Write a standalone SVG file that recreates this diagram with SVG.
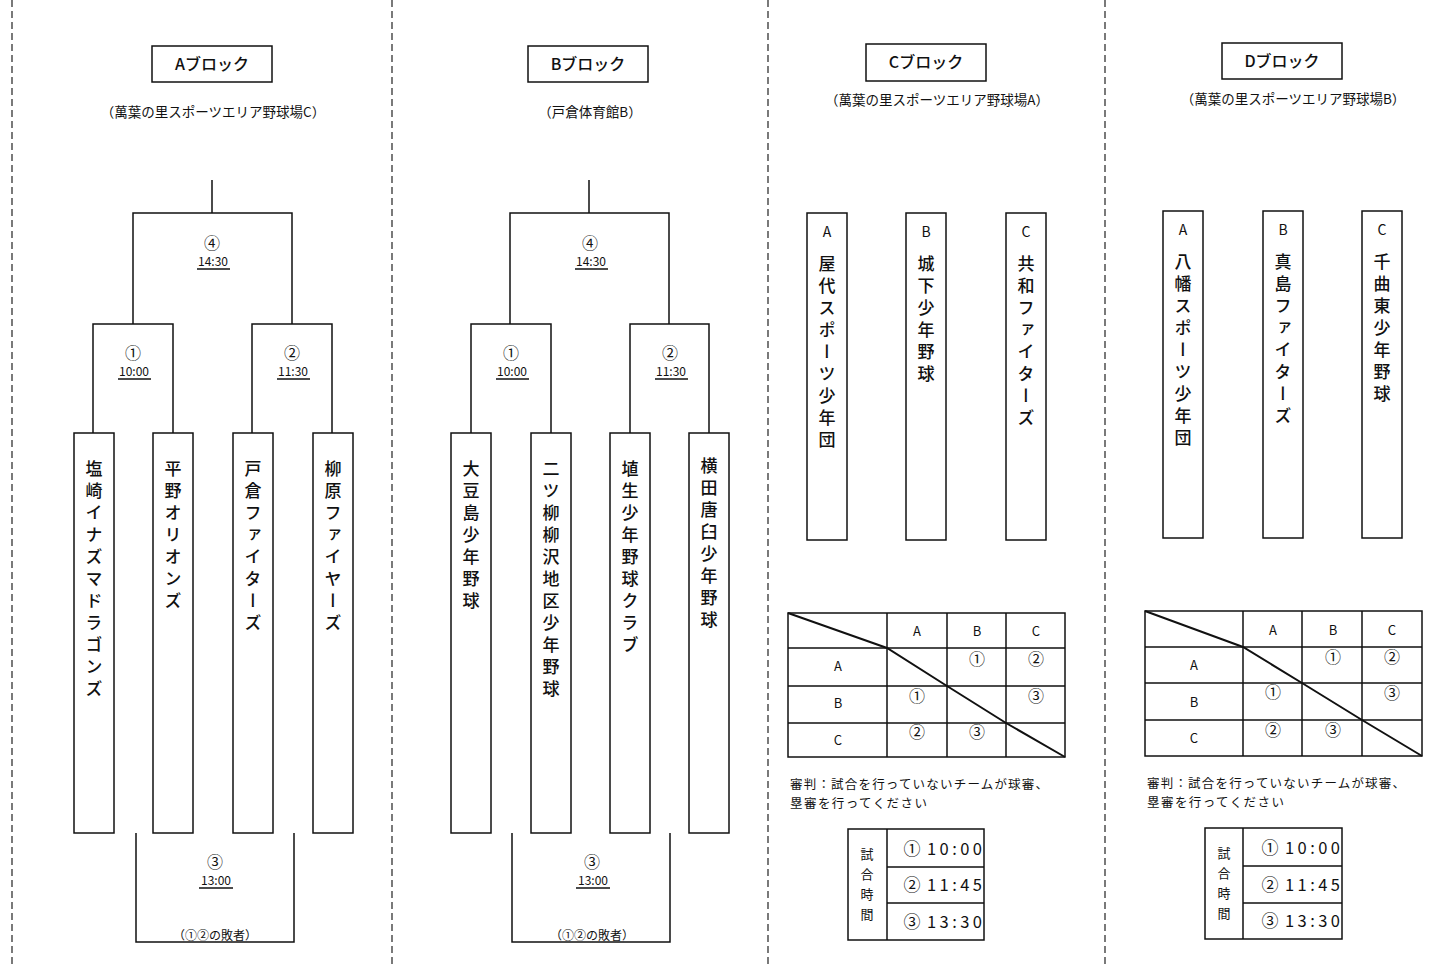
<svg xmlns="http://www.w3.org/2000/svg" width="1441" height="966" viewBox="0 0 1441 966">
<style>
.sep{stroke:#222;stroke-width:1.2;stroke-dasharray:7 4;fill:none}
.ln{stroke:#111;stroke-width:1.5;fill:none}
.box{fill:#fff;stroke:#111;stroke-width:1.5}
.dg{stroke:#111;stroke-width:2;fill:none}
text{font-family:"Noto Sans CJK JP","Noto Sans CJK SC",sans-serif;fill:#111}
.ttl{font-size:16px;text-anchor:middle;font-weight:500}
.sub{font-size:13.5px;text-anchor:middle}
.num{font-size:16px;text-anchor:middle}
.tm{font-size:12px;text-anchor:middle}
.vt{font-size:17px;writing-mode:vertical-rl;letter-spacing:5px;font-weight:500}
.lt{font-size:14px;text-anchor:middle}
.cell{font-size:13px;text-anchor:middle}
.cn{font-size:16px;text-anchor:middle}
.note{font-size:12.5px}
.sm{font-size:12px;text-anchor:middle}
.tt{font-size:16.5px}
.big{font-size:17px;text-anchor:middle}
.vs{font-size:13px;writing-mode:vertical-rl;letter-spacing:7px}
</style>
<rect width="1441" height="966" fill="#fff"/>
<g id="separators">
<line class="sep" x1="12" y1="0" x2="12" y2="966"/>
<line class="sep" x1="392" y1="0" x2="392" y2="966"/>
<line class="sep" x1="768" y1="0" x2="768" y2="966"/>
<line class="sep" x1="1105" y1="0" x2="1105" y2="966"/>
</g>

<!-- A block -->
<g id="a-title"><rect class="box" x="152" y="46" width="120" height="36"/><text class="ttl" x="212" y="70">Aブロック</text></g>
<g id="a-venue"><text class="sub" x="213" y="117">（萬葉の里スポーツエリア野球場C）</text></g>
<g id="connectors-a">
<path class="ln" d="M212 180V213M133 324V213H292V324M93 433V324H173V433M252 433V324H332V433M136 833V942H294V833"/>
</g>
<g id="a-m4"><text class="num" x="212" y="249">④</text><text class="tm" x="213" y="266">14:30</text><line class="ln" stroke-width="1" x1="197" y1="269" x2="230" y2="269"/></g>
<g id="a-m1"><text class="num" x="133" y="359">①</text><text class="tm" x="134" y="376">10:00</text><line class="ln" stroke-width="1" x1="118" y1="379" x2="151" y2="379"/></g>
<g id="a-m2"><text class="num" x="292" y="359">②</text><text class="tm" x="293" y="376">11:30</text><line class="ln" stroke-width="1" x1="277" y1="379" x2="310" y2="379"/></g>
<g id="a-m3"><text class="num" x="215" y="868">③</text><text class="tm" x="216" y="885">13:00</text><line class="ln" stroke-width="1" x1="199" y1="888" x2="233" y2="888"/><text class="sm" x="215" y="940">（①②の敗者）</text></g>
<g id="a-t1"><rect class="box" x="74" y="433" width="40" height="400"/><text class="vt" x="94" y="460">塩崎イナズマドラゴンズ</text></g>
<g id="a-t2"><rect class="box" x="153" y="433" width="40" height="400"/><text class="vt" x="173" y="460">平野オリオンズ</text></g>
<g id="a-t3"><rect class="box" x="233" y="433" width="40" height="400"/><text class="vt" x="253" y="460">戸倉ファイターズ</text></g>
<g id="a-t4"><rect class="box" x="313" y="433" width="40" height="400"/><text class="vt" x="333" y="460">柳原ファイヤーズ</text></g>

<!-- B block -->
<g id="b-title"><rect class="box" x="528" y="46" width="120" height="36"/><text class="ttl" x="588" y="70">Bブロック</text></g>
<g id="b-venue"><text class="sub" x="590" y="117">（戸倉体育館B）</text></g>
<g id="connectors-b">
<path class="ln" d="M589 180V213M510 324V213H669V324M471 433V324H551V433M630 433V324H709V433M512 833V942H670V833"/>
</g>
<g id="b-m4"><text class="num" x="590" y="249">④</text><text class="tm" x="591" y="266">14:30</text><line class="ln" stroke-width="1" x1="575" y1="269" x2="608" y2="269"/></g>
<g id="b-m1"><text class="num" x="511" y="359">①</text><text class="tm" x="512" y="376">10:00</text><line class="ln" stroke-width="1" x1="496" y1="379" x2="529" y2="379"/></g>
<g id="b-m2"><text class="num" x="670" y="359">②</text><text class="tm" x="671" y="376">11:30</text><line class="ln" stroke-width="1" x1="655" y1="379" x2="688" y2="379"/></g>
<g id="b-m3"><text class="num" x="592" y="868">③</text><text class="tm" x="593" y="885">13:00</text><line class="ln" stroke-width="1" x1="576" y1="888" x2="610" y2="888"/><text class="sm" x="592" y="940">（①②の敗者）</text></g>
<g id="b-t1"><rect class="box" x="451" y="433" width="40" height="400"/><text class="vt" x="471" y="460">大豆島少年野球</text></g>
<g id="b-t2"><rect class="box" x="531" y="433" width="40" height="400"/><text class="vt" x="551" y="460">二ツ柳柳沢地区少年野球</text></g>
<g id="b-t3"><rect class="box" x="610" y="433" width="40" height="400"/><text class="vt" x="630" y="460">埴生少年野球クラブ</text></g>
<g id="b-t4"><rect class="box" x="689" y="433" width="40" height="400"/><text class="vt" x="709" y="457">横田唐臼少年野球</text></g>

<!-- C block -->
<g id="c-title"><rect class="box" x="866" y="44" width="120" height="37"/><text class="ttl" x="926" y="68">Cブロック</text></g>
<g id="c-venue"><text class="sub" x="937" y="105">（萬葉の里スポーツエリア野球場A）</text></g>
<g id="c-ta"><rect class="box" x="807" y="213" width="40" height="327"/><text class="lt" x="827" y="237">A</text><text class="vt" x="827" y="255">屋代スポーツ少年団</text></g>
<g id="c-tb"><rect class="box" x="906" y="213" width="40" height="327"/><text class="lt" x="926" y="237">B</text><text class="vt" x="926" y="255">城下少年野球</text></g>
<g id="c-tc"><rect class="box" x="1006" y="213" width="40" height="327"/><text class="lt" x="1026" y="237">C</text><text class="vt" x="1026" y="255">共和ファイターズ</text></g>
<g id="c-table">
<rect class="box" x="788" y="613" width="277" height="144"/>
<path class="ln" d="M887 613V757M947 613V757M1006 613V757M788 648H1065M788 686H1065M788 723H1065"/>
<polyline class="dg" points="788,613 887,648 947,686 1006,723 1065,757"/>
<text class="cell" x="917" y="636">A</text><text class="cell" x="977" y="636">B</text><text class="cell" x="1036" y="636">C</text>
<text class="cell" x="838" y="671">A</text><text class="cell" x="838" y="708">B</text><text class="cell" x="838" y="745">C</text>
<text class="cn" x="977" y="665">①</text><text class="cn" x="1036" y="665">②</text>
<text class="cn" x="917" y="702">①</text><text class="cn" x="1036" y="702">③</text>
<text class="cn" x="917" y="738">②</text><text class="cn" x="977" y="738">③</text>
</g>
<g id="c-note"><text class="note" x="790" y="789" textLength="258" lengthAdjust="spacing">審判：試合を行っていないチームが球審、</text><text class="note" x="790" y="808" textLength="137" lengthAdjust="spacing">塁審を行ってください</text></g>
<g id="c-times">
<rect class="box" x="848" y="829" width="136" height="111"/>
<path class="ln" d="M887 829V940M887 867H984M887 903H984"/>
<text class="vs" x="867" y="848">試合時間</text>
<text class="big" x="912" y="855">①</text><text class="tt" x="927" y="855" textLength="55" lengthAdjust="spacing">10:00</text>
<text class="big" x="912" y="891">②</text><text class="tt" x="927" y="891" textLength="55" lengthAdjust="spacing">11:45</text>
<text class="big" x="912" y="928">③</text><text class="tt" x="927" y="928" textLength="55" lengthAdjust="spacing">13:30</text>
</g>

<!-- D block -->
<g id="d-title"><rect class="box" x="1222" y="43" width="120" height="36"/><text class="ttl" x="1282" y="67">Dブロック</text></g>
<g id="d-venue"><text class="sub" x="1293" y="104">（萬葉の里スポーツエリア野球場B）</text></g>
<g id="d-ta"><rect class="box" x="1163" y="211" width="40" height="327"/><text class="lt" x="1183" y="235">A</text><text class="vt" x="1183" y="253">八幡スポーツ少年団</text></g>
<g id="d-tb"><rect class="box" x="1263" y="211" width="40" height="327"/><text class="lt" x="1283" y="235">B</text><text class="vt" x="1283" y="253">真島ファイターズ</text></g>
<g id="d-tc"><rect class="box" x="1362" y="211" width="40" height="327"/><text class="lt" x="1382" y="235">C</text><text class="vt" x="1382" y="253">千曲東少年野球</text></g>
<g id="d-table">
<rect class="box" x="1145" y="611" width="277" height="145"/>
<path class="ln" d="M1243 611V756M1302 611V756M1362 611V756M1145 647H1422M1145 683H1422M1145 720H1422"/>
<polyline class="dg" points="1145,611 1243,647 1302,683 1362,720 1422,756"/>
<text class="cell" x="1273" y="635">A</text><text class="cell" x="1333" y="635">B</text><text class="cell" x="1392" y="635">C</text>
<text class="cell" x="1194" y="670">A</text><text class="cell" x="1194" y="707">B</text><text class="cell" x="1194" y="743">C</text>
<text class="cn" x="1333" y="663">①</text><text class="cn" x="1392" y="663">②</text>
<text class="cn" x="1273" y="698">①</text><text class="cn" x="1392" y="699">③</text>
<text class="cn" x="1273" y="736">②</text><text class="cn" x="1333" y="736">③</text>
</g>
<g id="d-note"><text class="note" x="1147" y="788" textLength="258" lengthAdjust="spacing">審判：試合を行っていないチームが球審、</text><text class="note" x="1147" y="807" textLength="137" lengthAdjust="spacing">塁審を行ってください</text></g>
<g id="d-times">
<rect class="box" x="1205" y="828" width="137" height="111"/>
<path class="ln" d="M1243 828V939M1243 866H1342M1243 903H1342"/>
<text class="vs" x="1224" y="847">試合時間</text>
<text class="big" x="1270" y="854">①</text><text class="tt" x="1285" y="854" textLength="55" lengthAdjust="spacing">10:00</text>
<text class="big" x="1270" y="891">②</text><text class="tt" x="1285" y="891" textLength="55" lengthAdjust="spacing">11:45</text>
<text class="big" x="1270" y="927">③</text><text class="tt" x="1285" y="927" textLength="55" lengthAdjust="spacing">13:30</text>
</g>
</svg>
